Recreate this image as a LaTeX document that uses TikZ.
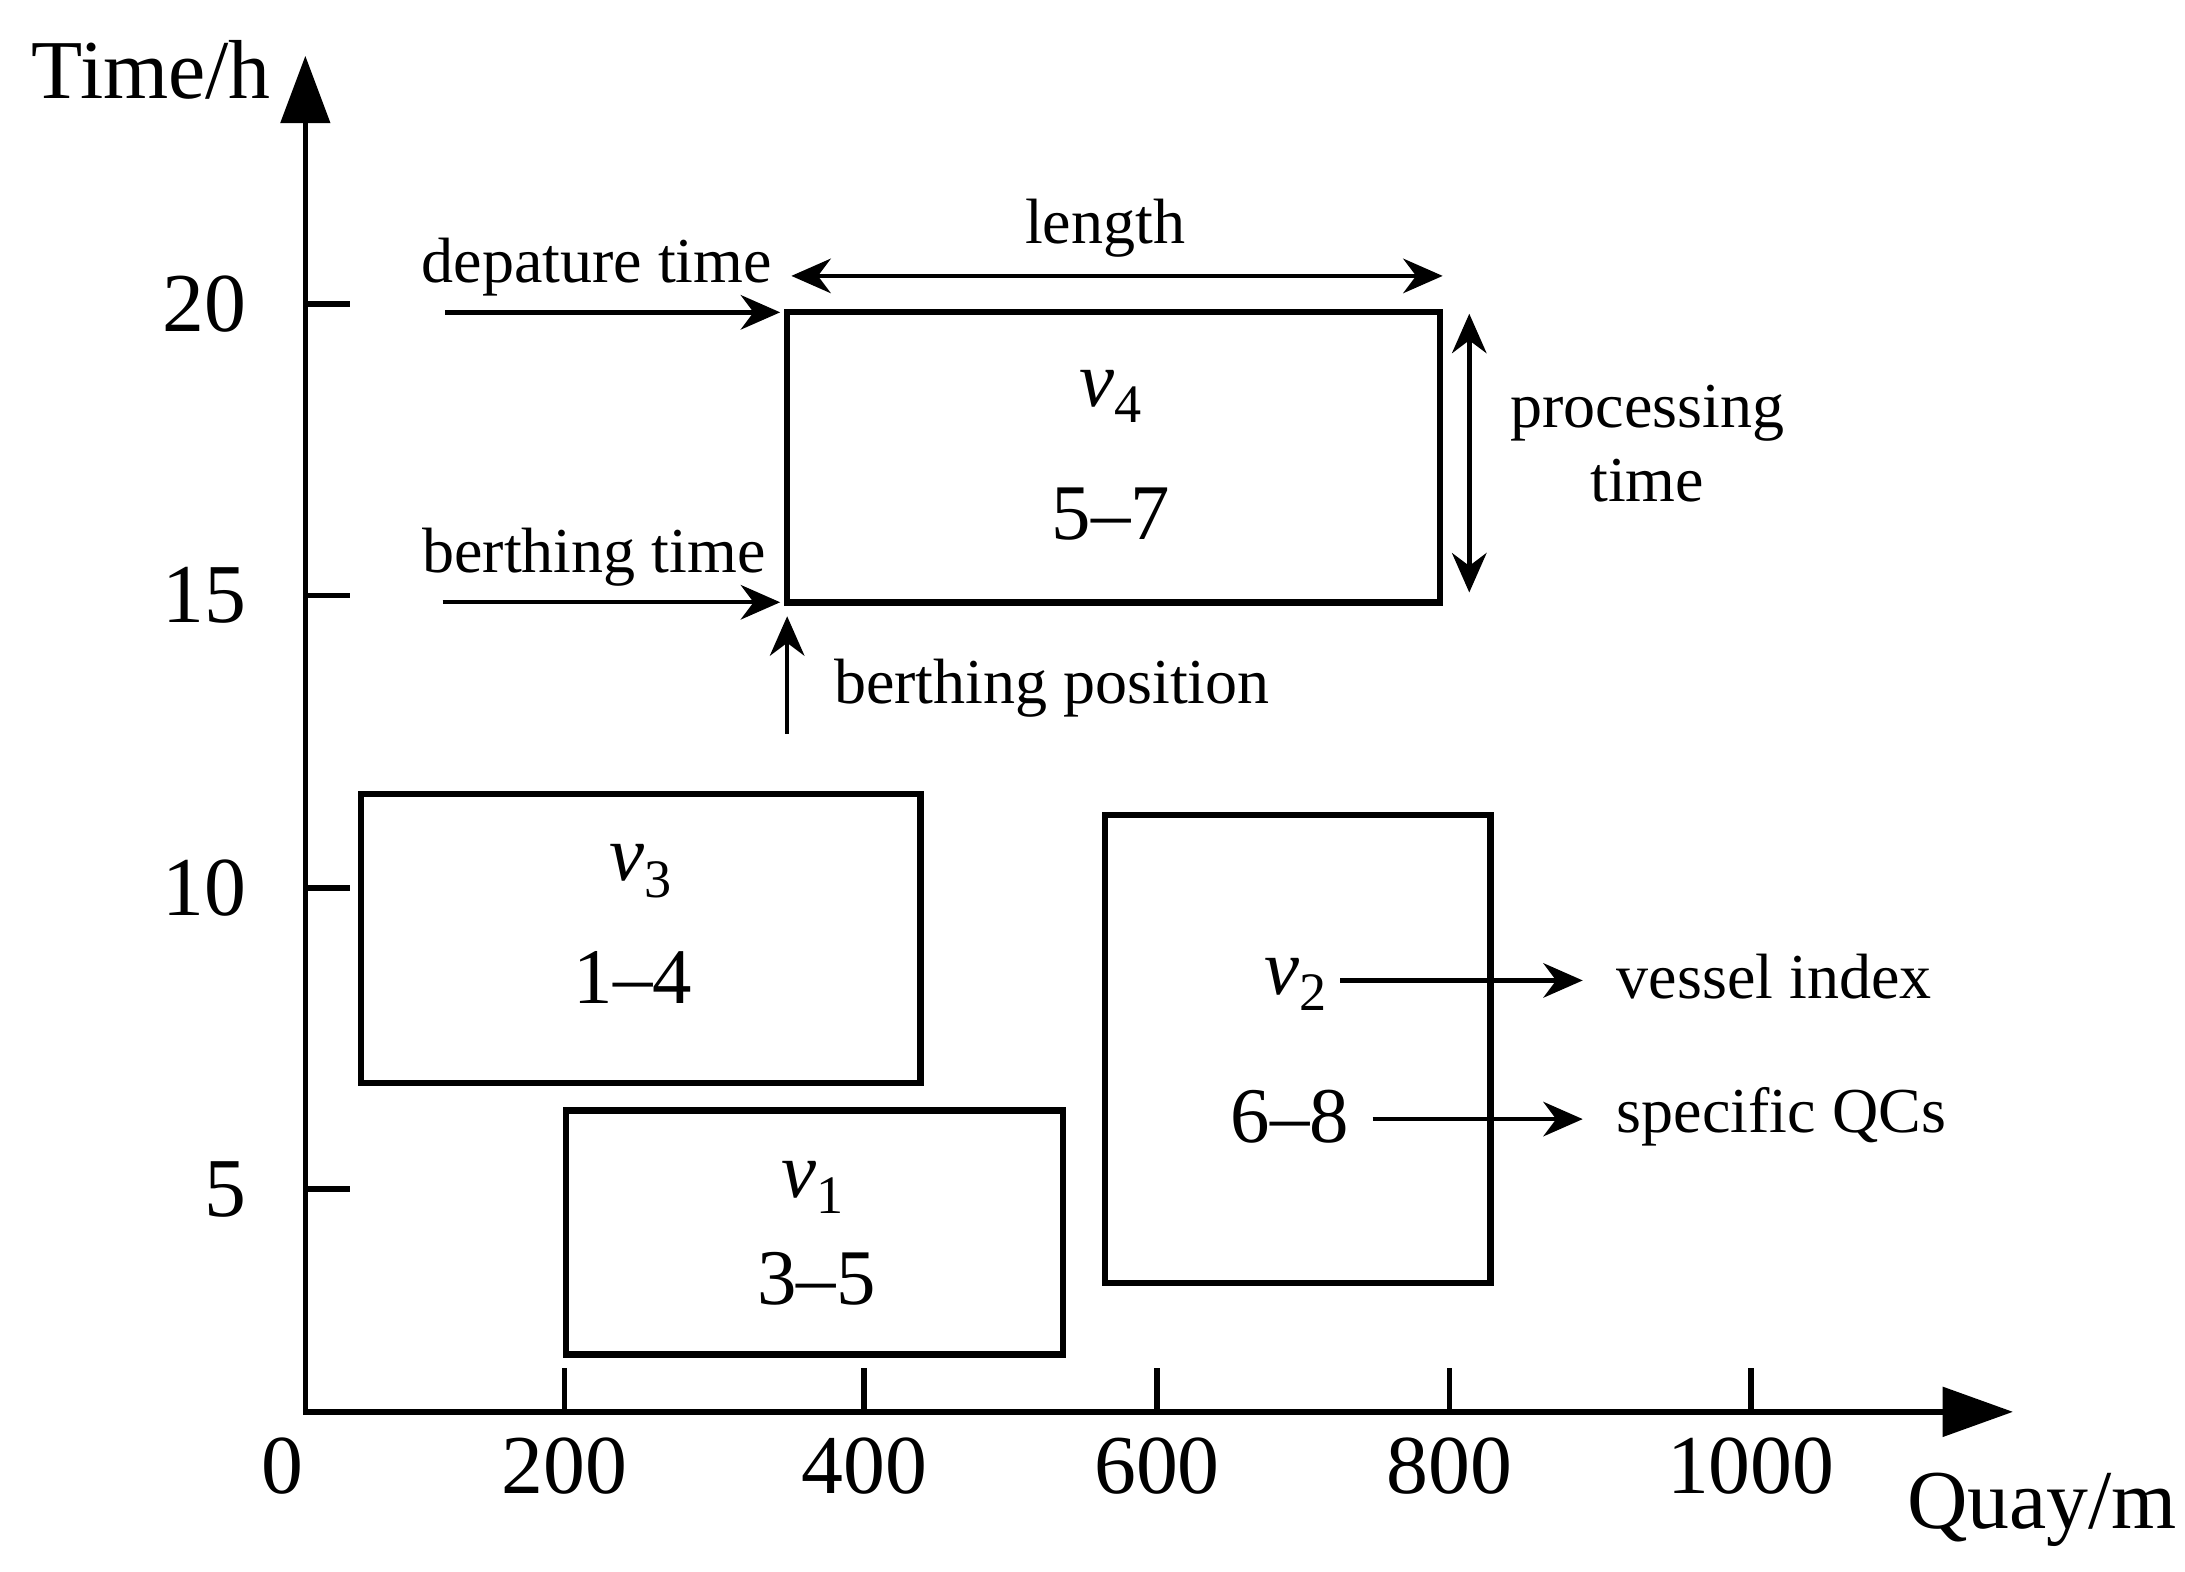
\documentclass[tikz,border=0pt]{standalone}
\usepackage{fontspec}
\setmainfont{Liberation Serif}
\usetikzlibrary{arrows.meta}
\newcommand{\vsl}[1]{\textit{v}\raisebox{-0.45ex}{\fontsize{11}{12}\selectfont #1}}
\begin{document}
\begin{tikzpicture}[x=0.01cm,y=-0.01cm,
  ln/.style={line width=1.1pt},
  box/.style={line width=1.3pt,draw},
  arr/.style={line width=0.9pt,-{Stealth[length=8pt,width=7pt]}},
  darr/.style={line width=0.9pt,{Stealth[length=8pt,width=7pt]}-{Stealth[length=8pt,width=7pt]}},
  lab/.style={font=\fontsize{13}{15}\selectfont},
  big/.style={font=\fontsize{17}{19}\selectfont},
  mid/.style={font=\fontsize{16}{18}\selectfont}]
\useasboundingbox (0,0) rectangle (1560,1122);
% axes
\coordinate (o) at (218,1008);
\coordinate (ytop) at (218,88);
\coordinate (xend) at (1387,1008);
\draw[ln] (ytop) -- (o) -- (xend);
\fill (200,88) -- (218,40) -- (236,88) -- cycle;
\fill (1387,990) -- (1437,1008) -- (1387,1026) -- cycle;
\node[big] (ty) at (108,50) {Time/h};
\node[big] (tx) at (1458,1078) {Quay/m};
% ticks
\foreach \y/\t in {217/20,425/15,634/10,849/5}{
  \draw[ln] (218,\y) -- (250,\y);
  \node[big,anchor=east] at (188,\y) {\t};}
\foreach \x/\t in {403/200,617/400,826/600,1035/800,1250/1000}{
  \draw[ln] (\x,1008) -- (\x,977);
  \node[big] at (\x,1047) {\t};}
\node[big] (zero) at (202,1047) {0};
% boxes
\node[box,minimum width=4.66cm,minimum height=2.07cm] (b4) at (795,326.5) {};
\node[box,minimum width=3.99cm,minimum height=2.06cm] (b3) at (457.5,670) {};
\node[box,minimum width=3.55cm,minimum height=1.74cm] (b1) at (581.5,880) {};
\node[box,minimum width=2.75cm,minimum height=3.34cm] (b2) at (926.5,749) {};
\node[mid] (v4) at (793,283) {\vsl{4}};
\node[mid] (n4) at (793,367) {5–7};
\node[mid] (v3) at (457,622) {\vsl{3}};
\node[mid] (n3) at (452,698) {1–4};
\node[mid] (v1) at (580,848) {\vsl{1}};
\node[mid] (n1) at (583,913) {3–5};
\node[mid] (v2) at (925,703) {\vsl{2}};
\node[mid] (n2) at (921,797) {6–8};
% annotations
\coordinate (d0) at (318,223); \coordinate (d1) at (557,223);
\draw[arr] (d0) -- (d1);
\node[lab] (dt) at (426,191) {depature time};
\coordinate (e0) at (316,430); \coordinate (e1) at (557,430);
\draw[arr] (e0) -- (e1);
\node[lab] (bt) at (424,398) {berthing time};
\coordinate (l0) at (565,197); \coordinate (l1) at (1030,197);
\draw[darr] (l0) -- (l1);
\node[lab] (len) at (789,163) {length};
\coordinate (p0) at (1049,224); \coordinate (p1) at (1049,423);
\draw[darr] (p0) -- (p1);
\node[lab,align=center] (pt) at (1176,317) {processing\\time};
\coordinate (q0) at (562,524); \coordinate (q1) at (562,440);
\draw[arr] (q0) -- (q1);
\node[lab] (bp) at (751,491) {berthing position};
\coordinate (vi) at (1130,700);
\draw[arr] (957,700) -- (vi);
\node[lab,anchor=west] (vil) at (1142,697) {vessel index};
\coordinate (sq) at (1130,799);
\draw[arr] (980,799) -- (sq);
\node[lab,anchor=west] (sql) at (1142,797) {specific QCs};
\end{tikzpicture}
\end{document}
